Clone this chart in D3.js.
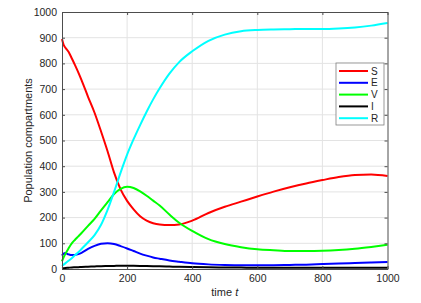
<!DOCTYPE html>
<html><head><meta charset="utf-8">
<script src="https://cdn.jsdelivr.net/npm/d3@7"></script>
<style>body{margin:0;background:#fff;}svg{display:block;}text{font-family:"Liberation Sans",Arial,sans-serif;}</style>
</head><body>
<svg id="c" width="421" height="303"></svg>
<script>
const time = [0,5,10,20,30,40,50,60,80,100,120,140,160,180,200,220,240,260,280,300,330,360,400,450,500,550,600,650,700,750,800,850,900,950,1000];
const S = [895,872,862,845,820,793,765,735,670,608,535,458,375,310,265,232,205,188,178,173,171,173,188,218,242,262,282,301,318,333,346,358,366,368,362];
const E = [52,60,62,57,54,55,58,63,78,90,98,100,97,89,80,70,60,52,45,40,33,28,22,18,16,15,15,15,16,17,19,21,23,25,27];
const V = [30,45,58,80,100,114,127,140,168,195,228,260,292,312,320,315,302,285,266,247,212,180,148,116,97,85,77,73,70,70,71,74,79,86,94];
const I = [2,3,4,5,6,6.5,7,8,9,10,11,11.5,12,12.5,12.5,12.3,12,11.5,11,10.5,9.5,8.5,7.5,6.5,6,5.5,5,5,4.5,4.5,4.5,4.5,4.5,4.5,4.5];
const R = [12,17,22,32,42,54,65,78,104,132,172,230,300,375,445,505,560,612,660,703,760,805,847,888,912,925,930,932,933,934,934,936,940,947,957];
const seriesNames = ["S","E","V","I","R"];
const seriesColors = ["#ff0000","#0000ff","#00ff00","#000000","#00ffff"];
const xTicks = [0,200,400,600,800,1000];
const yTicks = [0,100,200,300,400,500,600,700,800,900,1000];

const svg = d3.select("#c");
const L=62,Rt=387.5,T=12,B=269;
const x = d3.scaleLinear().domain([0,1000]).range([L,Rt]);
const y = d3.scaleLinear().domain([0,1000]).range([B,T]);
const axisCol="#4d4d4d", textCol="#262626";

// grid
const g = svg.append("g");
g.selectAll(".gx").data(xTicks.slice(1,-1)).enter().append("line")
 .attr("x1",d=>x(d)).attr("x2",d=>x(d)).attr("y1",T).attr("y2",B).attr("stroke","#e3e3e3").attr("stroke-width",1);
g.selectAll(".gy").data(yTicks.slice(1,-1)).enter().append("line")
 .attr("y1",d=>y(d)).attr("y2",d=>y(d)).attr("x1",L).attr("x2",Rt).attr("stroke","#e3e3e3").attr("stroke-width",1);

// lines
const all=[S,E,V,I,R];
const line = d3.line().x((d,i)=>x(time[i])).y(d=>y(d)).curve(d3.curveMonotoneX);
all.forEach((arr,k)=>{
  svg.append("path").attr("d",line(arr)).attr("fill","none").attr("stroke",seriesColors[k]).attr("stroke-width",2);
});

// axes
const fmt = d3.format("d");
const xb = svg.append("g").attr("transform",`translate(0,${B})`).call(d3.axisBottom(x).tickValues(xTicks).tickFormat(fmt).tickSizeInner(-3).tickSizeOuter(0).tickPadding(6));
const xt = svg.append("g").attr("transform",`translate(0,${T})`).call(d3.axisTop(x).tickValues(xTicks).tickSizeInner(-3).tickSizeOuter(0).tickFormat(""));
const yl = svg.append("g").attr("transform",`translate(${L},0)`).call(d3.axisLeft(y).tickValues(yTicks).tickFormat(fmt).tickSizeInner(-3).tickSizeOuter(0).tickPadding(5));
const yr = svg.append("g").attr("transform",`translate(${Rt},0)`).call(d3.axisRight(y).tickValues(yTicks).tickSizeInner(-3).tickSizeOuter(0).tickFormat(""));
[xb,xt,yl,yr].forEach(a=>{
  a.selectAll("path").attr("stroke",axisCol);
  a.selectAll("line").attr("stroke",axisCol);
  a.selectAll("text").attr("fill",textCol).style("font-size","10.5px").style("font-family","Liberation Sans, Arial, sans-serif");
});

// axis labels
svg.append("text").attr("x",(L+Rt)/2).attr("y",296).attr("text-anchor","middle").attr("fill",textCol).style("font-size","11px")
 .html('time <tspan font-style="italic">t</tspan>');
svg.append("text").attr("transform",`translate(32,${(T+B)/2}) rotate(-90)`).attr("text-anchor","middle").attr("fill",textCol).style("font-size","11px")
 .text("Population compartments");

// legend
const lg = svg.append("g");
lg.append("rect").attr("x",336).attr("y",63).attr("width",48).attr("height",62).attr("fill","#fff").attr("stroke","#7f7f7f").attr("stroke-width",0.8);
seriesNames.forEach((n,i)=>{
  const yy = 71 + i*11.8;
  lg.append("line").attr("x1",339).attr("x2",368).attr("y1",yy).attr("y2",yy).attr("stroke",seriesColors[i]).attr("stroke-width",2);
  lg.append("text").attr("x",371).attr("y",yy+3.5).attr("fill",textCol).style("font-size","10px").text(n);
});
</script>
</body></html>
